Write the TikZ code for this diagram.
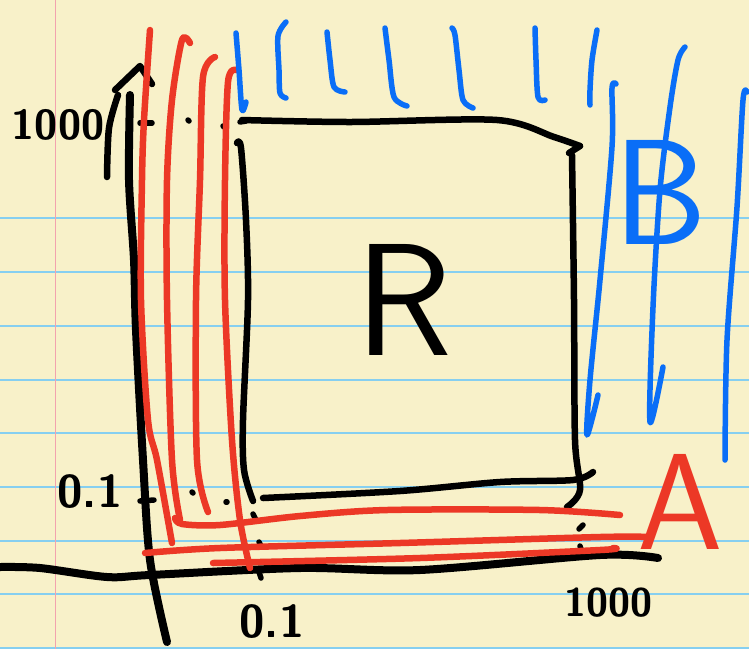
\documentclass[tikz,border=0pt]{standalone}
\usepackage{fontspec}
\definecolor{paper}{HTML}{F8F1C9}
\definecolor{ruleblue}{HTML}{86CFF0}
\definecolor{marginpink}{HTML}{F2A3AE}
\definecolor{pred}{HTML}{EC3826}
\definecolor{pblue}{HTML}{0A6EF7}
\tikzset{
  ink/.style={line width=6.5pt, line cap=round, line join=round},
  blk/.style={ink, black},
  axisink/.style={line width=8pt, line cap=round, line join=round, black},
  redink/.style={ink, pred},
  blueink/.style={line width=5.5pt, line cap=round, line join=round, pblue},
  dotmark/.style={line width=5.5pt, line cap=round, black},
  numlbl/.style={font=\sffamily\bfseries\fontsize{46}{46}\selectfont, inner sep=0pt},
  biglbl/.style={font=\sffamily\fontsize{160}{160}\selectfont, inner sep=0pt},
}
\begin{document}
\begin{tikzpicture}[x=1pt,y=-1pt]
% paper
\fill[paper] (0,0) rectangle (749,649);
\useasboundingbox (0,0) rectangle (749,649);
\foreach \yy in {218,272,326,379.5,433,487,540.5,594,648}
  \draw[ruleblue, line width=2pt] (0,\yy) -- (749,\yy);
\draw[marginpink, line width=1.5pt] (55.5,0) -- (55.5,649);

% axes
\draw[axisink] plot[smooth] coordinates {(167,642) (150,560) (143,460) (136,330) (134,260) (129,180) (130,95)};
\draw[blk] plot[smooth] coordinates {(107,177) (109,128) (118,95)};
\draw[blk] (115,90) -- (140,66) -- (152,84);
\draw[axisink] plot[smooth] coordinates {(0,567) (40,568) (107,577) (150,575) (300,568) (420,570) (600,555) (658,558)};

% box R
\draw[blk] plot[smooth] coordinates {(242,120) (350,122) (497,120) (554,137) (580,146)};
\draw[blk] (580,146) -- (569,153);
\draw[blk] plot[smooth] coordinates {(572,155) (574,300) (575,440) (580,490) (567,507)};
\draw[blk] plot[smooth] coordinates {(237,143) (241,148) (246,220) (248,300) (243,420) (244,470) (253,501)};
\draw[blk] plot[smooth] coordinates {(263,498) (400,491) (500,482) (573,480) (593,472)};

% guide dots
\draw[dotmark] (140,123) -- (152,123);
\draw[dotmark] (188,120) -- (189,121);
\draw[dotmark] (223,126) -- (224,127);
\draw[dotmark] (240,122) -- (246,121);
\draw[dotmark] (140,501) -- (154,500);
\draw[dotmark] (192,492) -- (193,493);
\draw[dotmark] (226,502) -- (227,502);
\draw[dotmark] (253,514) -- (256,520);
\draw[dotmark] (259,542) -- (261,546);
\draw[dotmark] (259,572) -- (261,578);
\draw[dotmark] (579,529) -- (583,525);
\draw[dotmark] (580,546) -- (581,549);

% red region A
\draw[redink] plot[smooth] coordinates {(150,30) (144,120) (142,180) (141,300) (148,420) (157,460) (172,543)};
\draw[redink] plot[smooth] coordinates {(190,43) (182,40) (172,100) (167,180) (167,300) (172,460) (180,520)};
\draw[redink] plot[smooth] coordinates {(215,57) (203,77) (200,180) (196,300) (197,460) (208,512)};
\draw[redink] plot[smooth] coordinates {(236,70) (228,82) (225,180) (225,300) (232,440) (240,520) (250,568)};
\draw[redink] plot[smooth] coordinates {(175,518) (182,524) (220,525) (300,516) (387,510) (540,510) (620,515)};
\draw[redink] plot[smooth] coordinates {(145,553) (220,548) (400,543) (600,537) (650,537)};
\draw[redink] plot[smooth] coordinates {(213,563) (420,558) (600,550) (613,548)};

% blue region B
\draw[blueink] plot[smooth] coordinates {(236,33) (239,70) (242,110) (246,102)};
\draw[blueink] plot[smooth] coordinates {(286,22) (278,36) (279,70) (280,93) (286,98)};
\draw[blueink] plot[smooth] coordinates {(327,32) (330,60) (334,87) (345,92)};
\draw[blueink] plot[smooth] coordinates {(385,28) (389,60) (394,97) (407,106)};
\draw[blueink] plot[smooth] coordinates {(452,28) (455,35) (459,70) (463,100) (473,108)};
\draw[blueink] plot[smooth] coordinates {(535,28) (536,60) (538,97) (545,100)};
\draw[blueink] plot[smooth] coordinates {(597,30) (592,60) (590,90) (590,105)};
\draw[blueink] plot[smooth] coordinates {(616,84) (612,88) (612,147) (600,280) (590,380) (587,435) (598,395)};
\draw[blueink] plot[smooth] coordinates {(685,47) (678,60) (670,107) (660,190) (653,307) (650,422) (663,367)};
\draw[blueink] plot[smooth] coordinates {(747,92) (743,100) (737,207) (727,340) (725,460)};

% labels
\node[biglbl] (R) at (404,300) {R};
\node[biglbl, pred, font=\sffamily\fontsize{137}{137}\selectfont] (A) at (680,502) {A};
\node[biglbl, pblue, font=\sffamily\fontsize{150}{150}\selectfont] (B) at (660,192) {B};
\node[numlbl, font=\sffamily\bfseries\fontsize{42}{42}\selectfont] (ytop) at (58,125) {1000};
\node[numlbl] (ybot) at (90,492) {0.1};
\node[numlbl] (xlow) at (272,622) {0.1};
\node[numlbl, font=\sffamily\bfseries\fontsize{40}{40}\selectfont] (xhigh) at (608,603) {1000};
\end{tikzpicture}
\end{document}
